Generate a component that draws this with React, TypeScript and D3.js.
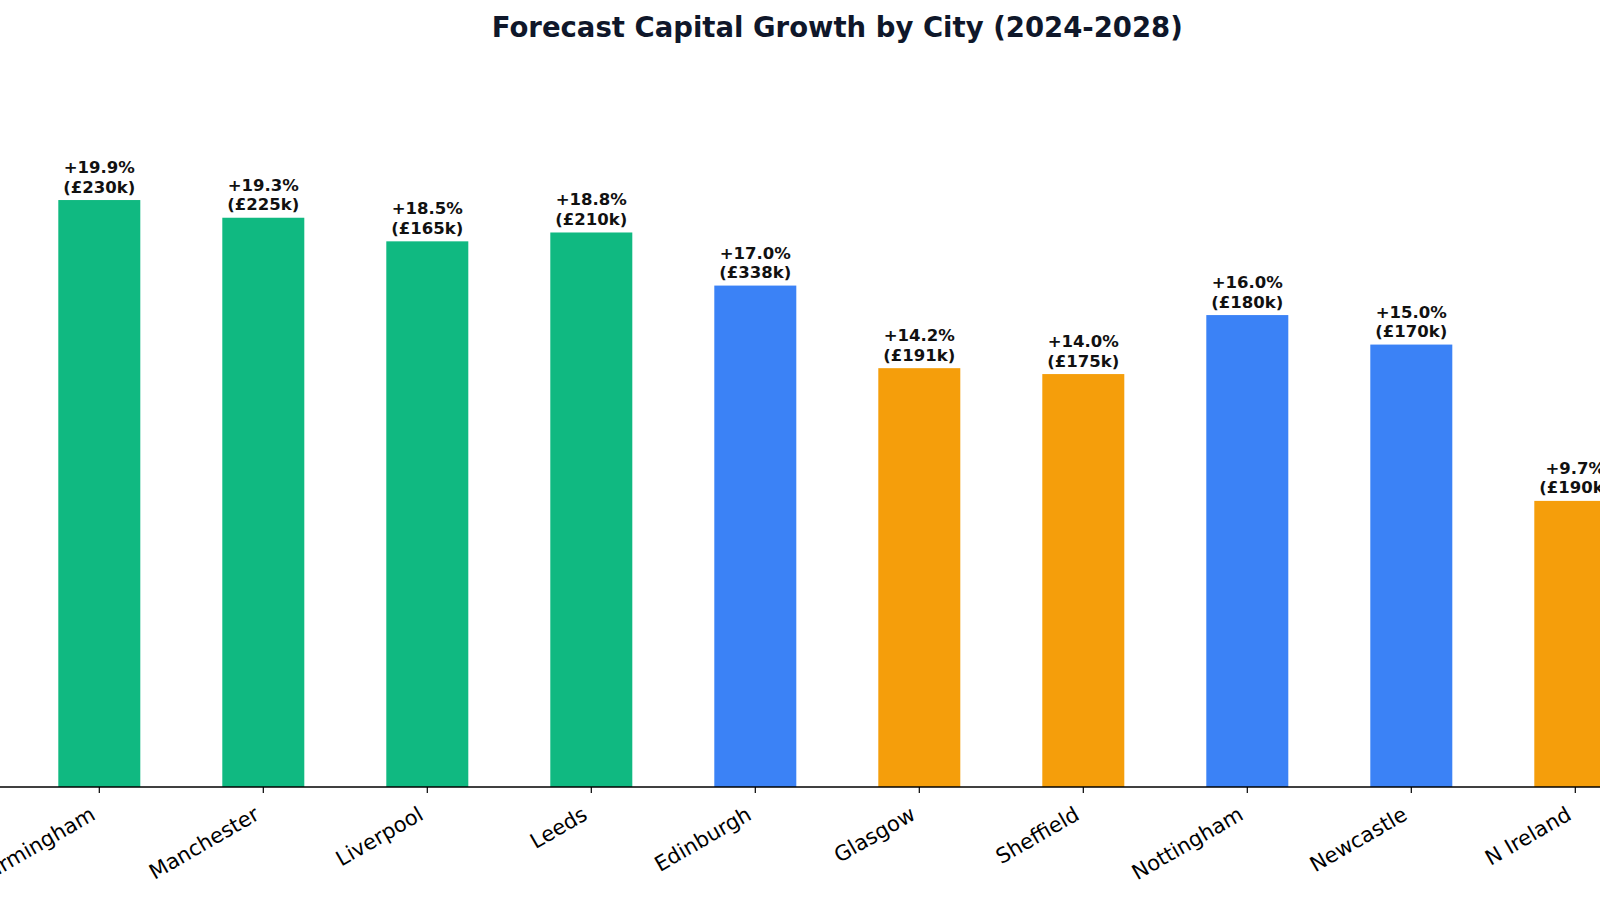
import * as d3 from "d3";
import { useEffect, useRef } from "react";

const cities = [
  "Birmingham",
  "Manchester",
  "Liverpool",
  "Leeds",
  "Edinburgh",
  "Glasgow",
  "Sheffield",
  "Nottingham",
  "Newcastle",
  "N Ireland",
];
const growth = [19.9, 19.3, 18.5, 18.8, 17.0, 14.2, 14.0, 16.0, 15.0, 9.7];
const avgPrice = [230, 225, 165, 210, 338, 191, 175, 180, 170, 190];
const tiers = ["high", "high", "high", "high", "mid", "low", "low", "mid", "mid", "low"];

const tierColors: Record<string, string> = {
  high: "#10b981",
  mid: "#3b82f6",
  low: "#f59e0b",
};

type Row = { city: string; growth: number; price: number; tier: string; idx: number };

export default function App() {
  const svgRef = useRef<SVGSVGElement | null>(null);

  useEffect(() => {
    if (!svgRef.current) return;
    const svg = d3.select(svgRef.current);
    svg.selectAll("*").remove();

    const width = 1600;
    const height = 900;
    const baseline = 787;
    const font = "DejaVu Sans, Verdana, sans-serif";

    const rows: Row[] = cities.map((city, idx) => ({
      city,
      growth: growth[idx],
      price: avgPrice[idx],
      tier: tiers[idx],
      idx,
    }));

    // category centres; bars take half of the step
    const x = d3.scaleLinear().domain([0, cities.length - 1]).range([99.3, 1575.3]);
    const step = x(1) - x(0);
    const barWidth = step * 0.5;

    const y = d3
      .scaleLinear()
      .domain([0, (d3.max(growth) ?? 1) * 1.15])
      .range([baseline, 112]);

    svg.attr("width", width).attr("height", height).attr("viewBox", `0 0 ${width} ${height}`);

    svg
      .append("rect")
      .attr("width", width)
      .attr("height", height)
      .attr("fill", "#ffffff");

    svg
      .append("text")
      .attr("x", x((cities.length - 1) / 2))
      .attr("y", 37)
      .attr("text-anchor", "middle")
      .attr("font-family", font)
      .attr("font-size", 27.5)
      .attr("font-weight", 700)
      .attr("fill", "#0f172a")
      .text("Forecast Capital Growth by City (2024-2028)");

    const bars = svg.append("g");

    bars
      .selectAll("rect")
      .data(rows)
      .join("rect")
      .attr("x", (d) => x(d.idx) - barWidth / 2)
      .attr("y", (d) => y(d.growth))
      .attr("width", barWidth)
      .attr("height", (d) => baseline - y(d.growth))
      .attr("fill", (d) => tierColors[d.tier]);

    const labels = svg
      .append("g")
      .attr("font-family", font)
      .attr("font-size", 16.5)
      .attr("font-weight", 700)
      .attr("fill", "#111111");

    labels
      .selectAll(".pct")
      .data(rows)
      .join("text")
      .attr("class", "pct")
      .attr("x", (d) => x(d.idx))
      .attr("y", (d) => y(d.growth) - 27)
      .attr("text-anchor", "middle")
      .text((d) => `+${d.growth.toFixed(1)}%`);

    labels
      .selectAll(".price")
      .data(rows)
      .join("text")
      .attr("class", "price")
      .attr("x", (d) => x(d.idx))
      .attr("y", (d) => y(d.growth) - 7.5)
      .attr("text-anchor", "middle")
      .text((d) => `(£${d.price}k)`);

    // x axis: bottom spine only
    const axis = svg.append("g");
    axis
      .append("line")
      .attr("x1", 0)
      .attr("x2", width)
      .attr("y1", baseline)
      .attr("y2", baseline)
      .attr("stroke", "#000000")
      .attr("stroke-width", 1.3);

    axis
      .selectAll(".tick")
      .data(rows)
      .join("line")
      .attr("class", "tick")
      .attr("x1", (d) => x(d.idx))
      .attr("x2", (d) => x(d.idx))
      .attr("y1", baseline)
      .attr("y2", baseline + 6)
      .attr("stroke", "#000000")
      .attr("stroke-width", 1.2);

    axis
      .selectAll(".tick-label")
      .data(rows)
      .join("text")
      .attr("class", "tick-label")
      .attr("transform", (d) => `translate(${x(d.idx) - 2.5},${baseline + 31.5}) rotate(-30)`)
      .attr("text-anchor", "end")
      .attr("font-family", font)
      .attr("font-size", 21)
      .attr("fill", "#000000")
      .text((d) => d.city);
  }, []);

  return (
    <svg
      ref={svgRef}
      style={{ position: "absolute", left: 0, top: 0, display: "block" }}
      aria-label="Forecast capital growth chart"
    />
  );
}
